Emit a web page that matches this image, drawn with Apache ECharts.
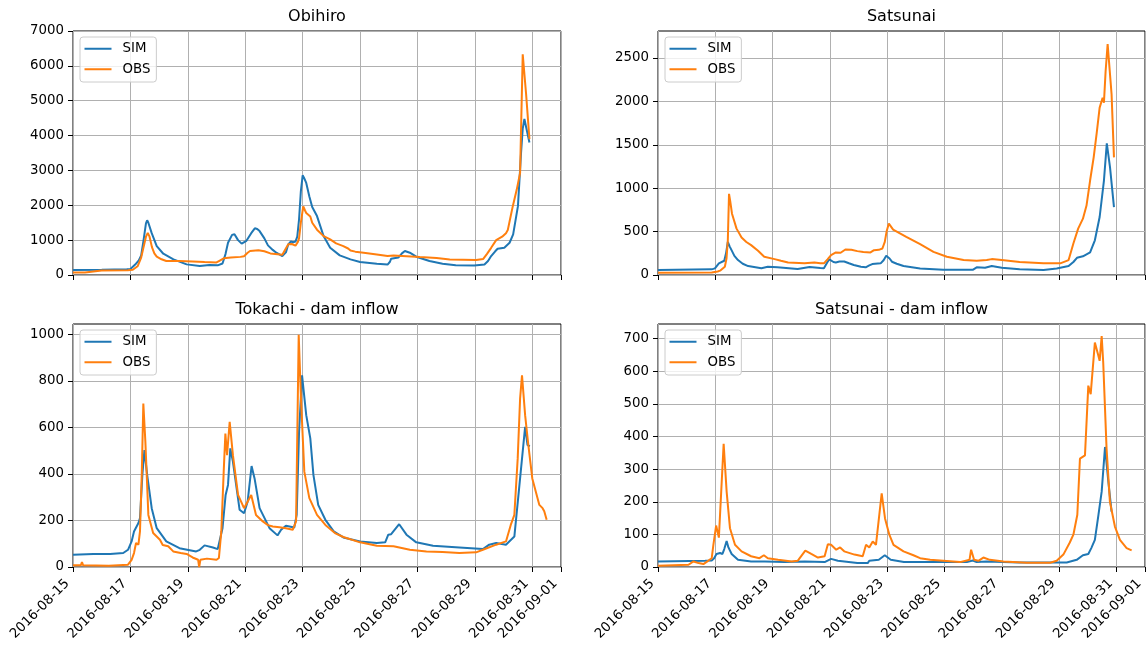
<!DOCTYPE html>
<html>
<head>
<meta charset="utf-8">
<title>SIM vs OBS discharge</title>
<script src="https://cdn.jsdelivr.net/npm/echarts@6/dist/echarts.min.js"></script>
<style>
  html, body { margin: 0; padding: 0; background: #fff; }
  #chart { width: 1147px; height: 648px; }
</style>
</head>
<body>
<div id="chart"></div>
<script>
// Time is given in hours since 2016-08-15 00:00 (UTC); values are discharge.
const START_MS = Date.UTC(2016, 7, 15);

const panelTitles = ['Obihiro', 'Satsunai', 'Tokachi - dam inflow', 'Satsunai - dam inflow'];
const seriesNames = ['SIM', 'OBS'];

// x ticks every two days, plus the right edge (2016-09-01)
const xTickHours = [0, 48, 96, 144, 192, 240, 288, 336, 384, 408];

// y ticks per panel
const yTicksObihiro = [0, 1000, 2000, 3000, 4000, 5000, 6000, 7000];
const yTicksSatsunai = [0, 500, 1000, 1500, 2000, 2500];
const yTicksTokachiDam = [0, 200, 400, 600, 800, 1000];
const yTicksSatsunaiDam = [0, 100, 200, 300, 400, 500, 600, 700];

// ---- Obihiro ----
const obihiroSimH = [0, 24, 45, 48, 52, 55, 57, 59, 61, 62, 63, 65.8, 70, 75.5, 84, 95, 106, 114, 121, 125, 127.5, 129.6, 133, 135, 138, 141, 142, 145, 149, 152, 154, 156, 160, 163, 167, 170, 175, 178, 180, 182, 184, 186, 187.5, 189, 190.5, 192, 193, 195, 197.6, 200, 204, 209.5, 215, 223, 232, 240, 254, 263, 265, 266, 272, 275, 277.5, 279, 281.6, 287, 298, 309, 320, 335.5, 344, 347, 349.6, 353, 355, 360.6, 365, 368, 372, 374.6, 376, 377.4, 379, 381.6];
const obihiroSimV = [145, 150, 165, 175, 300, 420, 560, 1000, 1480, 1570, 1500, 1200, 830, 610, 450, 305, 258, 286, 277, 330, 600, 925, 1150, 1170, 1000, 900, 890, 980, 1200, 1340, 1320, 1260, 1050, 850, 720, 640, 545, 650, 880, 960, 940, 960, 1100, 1600, 2400, 2860, 2800, 2640, 2250, 1950, 1690, 1116, 782, 563, 448, 372, 324, 300, 380, 467, 500, 620, 690, 680, 640, 525, 400, 324, 277, 270, 300, 400, 544, 680, 754, 782, 925, 1164, 1975, 3500, 4200, 4475, 4455, 3800];
const obihiroObsH = [0, 10, 11, 24, 46, 50, 54, 57, 59, 61, 62.5, 64, 66, 68, 70, 74, 78, 89, 100, 110, 120, 122, 126, 132, 140, 143, 146, 148, 155, 160, 165, 175, 177, 180, 183, 186, 188, 189, 190.5, 192.5, 194, 195, 198.4, 200, 204, 209.5, 215, 220, 226, 230, 232, 236, 243, 254, 263, 268, 279, 290, 304, 315, 337, 343, 346, 349.6, 353.8, 358.8, 362, 363.5, 366, 367.7, 371, 373.8, 376, 378.8, 381.6];
const obihiroObsV = [75, 75, 130, 130, 135, 150, 250, 500, 800, 1100, 1210, 1100, 800, 620, 525, 450, 400, 400, 390, 370, 360, 400, 480, 500, 520, 540, 640, 690, 710, 680, 620, 580, 700, 880, 890, 840, 950, 1050, 1500, 1970, 1850, 1780, 1680, 1500, 1300, 1116, 1020, 906, 830, 760, 700, 670, 640, 590, 544, 560, 540, 515, 486, 448, 430, 460, 600, 780, 1000, 1100, 1200, 1288, 1700, 1975, 2450, 2930, 6330, 5200, 3900];

// ---- Satsunai ----
const satsunaiSimH = [0, 45, 47.7, 51, 55.5, 57, 58.5, 60, 61.6, 64, 67, 71, 75.5, 86.6, 92, 100, 117, 127, 136, 139, 142, 143.5, 147, 149, 152, 156, 160, 164, 170, 174, 177, 179.5, 186.5, 189, 191.2, 194, 196, 200, 205.7, 219.6, 239, 264, 267, 274, 279.6, 288, 303, 323, 334, 344, 348, 351, 356, 362, 366, 370, 373.6, 376, 378.7, 382];
const satsunaiSimV = [57, 65, 76, 134, 164, 250, 380, 330, 286, 220, 172, 130, 103, 78, 95, 88, 69, 92, 80, 78, 150, 180, 150, 145, 155, 156, 135, 115, 95, 88, 110, 126, 134, 170, 221, 190, 153, 130, 103, 76, 61, 61, 88, 84, 103, 84, 65, 57, 76, 103, 150, 198, 215, 260, 400, 668, 1088, 1515, 1240, 782];
const satsunaiObsH = [0, 45, 50, 52, 56, 57.4, 58.5, 59.5, 60.5, 62, 65.8, 70, 74, 78, 83.8, 89, 97.7, 103, 109, 122.7, 131, 136, 139, 142, 145, 149, 153, 157, 162, 167, 172, 178, 181, 185, 188, 190, 191.5, 193.4, 195, 197, 208, 219.6, 230.8, 242, 256, 267, 268.5, 275.4, 279.6, 288, 303, 323, 337, 344, 348, 352, 356, 359, 362, 365, 367.5, 368.5, 370, 372.5, 373.6, 375, 376.7, 380, 382];
const satsunaiObsV = [27, 30, 40, 50, 95, 190, 400, 935, 850, 706, 534, 431, 380, 344, 279, 210, 183, 164, 145, 134, 145, 135, 134, 180, 229, 260, 256, 294, 290, 275, 265, 260, 286, 290, 305, 382, 500, 592, 570, 523, 439, 355, 267, 210, 172, 164, 187, 172, 183, 172, 149, 134, 134, 172, 363, 534, 649, 800, 1088, 1355, 1630, 1640, 1928, 2042, 1985, 2347, 2660, 2080, 1355];

// ---- Tokachi - dam inflow ----
const tokachiSimH = [0, 17, 31, 42, 46, 49, 51, 54.7, 56, 58, 59.7, 62, 65.8, 70, 78, 89, 103, 106, 110, 117, 121, 125, 127.6, 129.6, 131.5, 133.7, 139.3, 143, 146, 149.3, 151.8, 156, 164.3, 171, 174, 178, 185, 187, 189, 191.5, 195, 198.4, 201, 205, 211, 218, 226, 240, 254, 261, 263.6, 266, 272.7, 278.8, 287, 301, 323, 342.7, 348, 353.8, 362, 369, 373, 378, 380, 382];
const tokachiSimV = [53, 56, 56, 60, 74, 110, 153, 189, 210, 396, 503, 396, 253, 167, 110, 81, 67, 74, 93, 84, 77, 167, 310, 353, 510, 453, 246, 231, 281, 434, 381, 253, 167, 136, 160, 177, 170, 224, 581, 824, 653, 553, 396, 267, 203, 153, 127, 110, 103, 106, 139, 141, 184, 139, 106, 91, 84, 77, 96, 103, 96, 131, 339, 603, 524, 520];
const tokachiObsH = [0, 6.5, 7.5, 8.5, 30, 46, 49, 51, 52.7, 54.7, 56, 57.5, 58.8, 60.5, 63, 67, 72.7, 75, 79.6, 83.8, 90, 95, 100, 104.6, 105.5, 106.5, 112, 120, 122, 124, 126, 127.4, 128.8, 131, 133.7, 138, 143, 149, 153, 158.7, 163, 167, 172.6, 178, 183.7, 186.5, 188.7, 190.6, 193.4, 197.6, 204, 211, 219, 226, 240, 254, 268, 281.6, 295.5, 309, 323, 337, 342.7, 353.8, 362, 366, 369, 371.8, 373.8, 375.4, 378, 380.7, 384, 389.9, 392.6, 394, 396];
const tokachiObsV = [7, 7, 21, 7, 5, 10, 31, 60, 103, 96, 153, 400, 703, 539, 224, 146, 117, 95, 89, 67, 60, 56, 41, 31, 0, 31, 36, 31, 39, 153, 410, 574, 481, 624, 481, 310, 253, 310, 224, 196, 180, 174, 171, 167, 160, 196, 999, 724, 410, 296, 224, 181, 146, 129, 106, 91, 89, 74, 67, 64, 60, 63, 74, 96, 110, 181, 224, 467, 724, 824, 653, 524, 381, 267, 253, 240, 203];

// ---- Satsunai - dam inflow ----
const satsunaiDamSimH = [0, 39.5, 45, 47, 49, 52, 54, 55.5, 57.5, 59, 61.7, 67, 78, 89.5, 106, 123, 139.6, 145, 150.7, 167, 175.7, 177, 185, 190, 195, 206, 214, 258.7, 263.7, 267, 275.4, 303, 342.4, 350.8, 356, 360.5, 363, 366, 369, 371.7, 374.5, 377.3, 380];
const satsunaiDamSimV = [17, 19, 20, 27, 40, 43, 40, 55, 80, 60, 40, 22, 17, 17, 15, 17, 15, 25, 19, 12, 12, 19, 22, 36, 22, 15, 15, 15, 20, 15, 17, 14, 14, 22, 36, 40, 58, 83, 160, 231, 368, 261, 170];
const satsunaiDamObsH = [0, 25.6, 29.7, 34, 38, 42, 45, 46.4, 48.7, 51, 52, 55, 57.5, 60.3, 64.5, 70, 78, 85, 88.7, 92, 100.6, 112, 117, 123.4, 128.4, 134, 139.6, 142.3, 145, 149.3, 152.6, 156, 164.6, 171.5, 174.3, 177, 179.9, 182.6, 187.4, 190.2, 193.8, 197.3, 205.7, 214, 219.6, 228, 239, 253, 258.7, 261, 262.3, 264.8, 268.4, 272.6, 278, 289.4, 309, 328.5, 334, 339.6, 345, 348, 351.3, 353.5, 357.7, 360.5, 362.5, 366, 369, 370, 371.7, 373, 375.8, 378.6, 382.8, 387, 392.6, 396.8];
const satsunaiDamObsV = [4, 7, 17, 12, 9, 19, 27, 68, 127, 90, 90, 378, 231, 119, 68, 48, 33, 27, 36, 27, 22, 17, 19, 50, 40, 29, 33, 70, 68, 53, 60, 48, 38, 33, 68, 60, 78, 68, 226, 149, 99, 68, 48, 36, 27, 22, 19, 15, 20, 22, 53, 22, 19, 29, 22, 17, 13, 13, 19, 38, 75, 99, 160, 332, 342, 556, 530, 688, 647, 632, 708, 627, 363, 200, 124, 83, 58, 51];

const FONT = 'DejaVu Sans';
const TICK_FONT = 13.33;
const TITLE_FONT = 16;
const BLUE = '#1f77b4';
const ORANGE = '#ff7f0e';

function pairs(h, v) {
  return h.map((t, i) => [t, v[i]]);
}

function hourToDate(h) {
  return new Date(START_MS + h * 3600000).toISOString().slice(0, 10);
}

// panel geometry (pixels)
const cols = [{ left: 73, width: 488 }, { left: 658, width: 487 }];
const rows = [{ top: 31, height: 244 }, { top: 324, height: 243 }];
const yMax = [7000, 2810, 1045, 745];
const yInterval = [1000, 500, 200, 100];
const yTicks = [yTicksObihiro, yTicksSatsunai, yTicksTokachiDam, yTicksSatsunaiDam];
const simData = [
  pairs(obihiroSimH, obihiroSimV),
  pairs(satsunaiSimH, satsunaiSimV),
  pairs(tokachiSimH, tokachiSimV),
  pairs(satsunaiDamSimH, satsunaiDamSimV)
];
const obsData = [
  pairs(obihiroObsH, obihiroObsV),
  pairs(satsunaiObsH, satsunaiObsV),
  pairs(tokachiObsH, tokachiObsV),
  pairs(satsunaiDamObsH, satsunaiDamObsV)
];

const grids = [], xAxes = [], yAxes = [], series = [], titles = [], legends = [];

for (let p = 0; p < 4; p++) {
  const c = cols[p % 2], r = rows[Math.floor(p / 2)];
  const bottomRow = p >= 2;
  grids.push({
    left: c.left, top: r.top, width: c.width, height: r.height,
    show: true, borderColor: '#000', borderWidth: 1, backgroundColor: '#fff',
    containLabel: false
  });
  xAxes.push({
    type: 'value', gridIndex: p, min: 0, max: 408, interval: 48,
    axisLine: { show: false },
    axisTick: { show: true, length: 5, lineStyle: { color: '#000', width: 1 }, customValues: xTickHours },
    splitLine: { show: true, lineStyle: { color: '#b0b0b0', width: 1 } },
    axisLabel: {
      show: bottomRow, rotate: 45, margin: 9, fontFamily: FONT, fontSize: TICK_FONT, color: '#000',
      padding: [0, 8, 0, 0],
      showMinLabel: true, showMaxLabel: true, customValues: xTickHours,
      formatter: v => hourToDate(v)
    }
  });
  yAxes.push({
    type: 'value', gridIndex: p, min: 0, max: yMax[p], interval: yInterval[p],
    axisLine: { show: false },
    axisTick: { show: true, length: 5, lineStyle: { color: '#000', width: 1 }, customValues: yTicks[p] },
    splitLine: { show: true, lineStyle: { color: '#b0b0b0', width: 1 } },
    axisLabel: {
      margin: 9, fontFamily: FONT, fontSize: TICK_FONT, color: '#000',
      customValues: yTicks[p], formatter: v => String(v)
    }
  });
  series.push({
    name: seriesNames[0], type: 'line', xAxisIndex: p, yAxisIndex: p,
    data: simData[p], showSymbol: false, symbol: 'none',
    lineStyle: { color: BLUE, width: 2 }, itemStyle: { color: BLUE },
    animation: false, clip: true
  });
  series.push({
    name: seriesNames[1], type: 'line', xAxisIndex: p, yAxisIndex: p,
    data: obsData[p], showSymbol: false, symbol: 'none',
    lineStyle: { color: ORANGE, width: 2 }, itemStyle: { color: ORANGE },
    animation: false, clip: true
  });
  titles.push({
    text: panelTitles[p], left: c.left + c.width / 2, top: r.top - 22.5,
    textAlign: 'center', padding: 0,
    textStyle: { fontFamily: FONT, fontSize: TITLE_FONT, fontWeight: 'normal', color: '#000' }
  });
  legends.push({
    left: c.left + 7, top: r.top + 6, orient: 'vertical',
    icon: 'rect', itemWidth: 27, itemHeight: 2, itemGap: 5,
    padding: [4, 6, 5, 4.5],
    backgroundColor: 'rgba(255,255,255,0.8)', borderColor: '#cccccc', borderWidth: 1, borderRadius: 3,
    selectedMode: false,
    textStyle: { fontFamily: FONT, fontSize: TICK_FONT, color: '#000', padding: [0, 0, 0, 6], lineHeight: 15.5 },
    data: seriesNames
  });
}

const chart = echarts.init(document.getElementById('chart'), null, { renderer: 'canvas' });
chart.setOption({
  backgroundColor: '#fff',
  animation: false,
  title: titles,
  legend: legends,
  grid: grids,
  xAxis: xAxes,
  yAxis: yAxes,
  series: series
});
</script>
</body>
</html>
